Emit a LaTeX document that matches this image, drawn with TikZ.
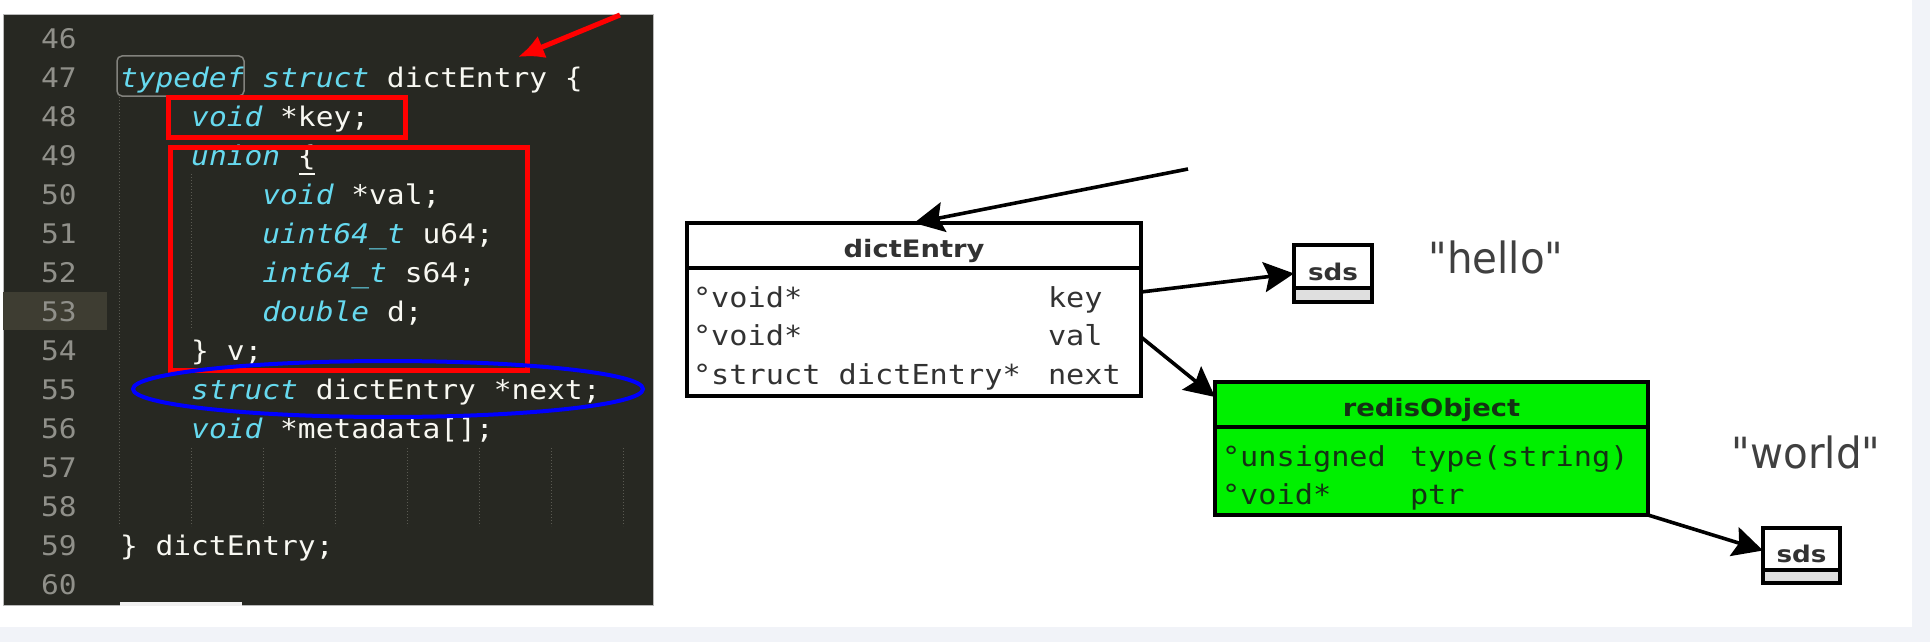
\documentclass[tikz,border=0pt]{standalone}
\usepackage{fontspec}
\setmainfont{DejaVu Sans}
\newfontfamily\codefont{DejaVu Sans Mono}[FakeStretch=1.095]
\newfontfamily\umlmono{DejaVu Sans Mono}[FakeStretch=1.1]
\newfontfamily\umlsans{DejaVu Sans}[FakeStretch=1.14]
\newfontfamily\strfont{DejaVu Sans}[FakeStretch=0.94]
\usetikzlibrary{arrows.meta,calc}
\definecolor{pagegray}{RGB}{241,243,248}
\definecolor{panelbg}{RGB}{39,40,34}
\definecolor{codefg}{RGB}{248,248,242}
\definecolor{kwcol}{RGB}{102,217,239}
\definecolor{gutterfg}{RGB}{144,144,138}
\definecolor{gutterhl}{RGB}{62,61,50}
\definecolor{guidecol}{RGB}{90,90,82}
\definecolor{umltext}{RGB}{50,50,50}
\definecolor{objtext}{RGB}{20,50,20}
\definecolor{objgreen}{RGB}{0,240,0}
\definecolor{strgray}{RGB}{64,64,64}
\definecolor{markred}{RGB}{255,0,0}
\definecolor{markblue}{RGB}{0,0,255}
\definecolor{findbox}{RGB}{130,130,125}
\newcommand\kwd[1]{{\color{kwcol}\itshape #1}}
\frenchspacing
\tikzset{
  codeline/.style={anchor=base west, inner sep=0pt, outer sep=0pt, text=codefg,
    font=\codefont\fontsize{27}{30}\selectfont},
  lnum/.style={codeline, text=gutterfg},
  guide/.style={draw=guidecol, line width=1pt, dash pattern=on 1pt off 2pt},
  redbox/.style={draw=markred, line width=5pt},
  umlbox/.style={draw=black, line width=3.5pt, inner sep=0pt, outer sep=0pt, fill=white},
  umlline/.style={draw=black, line width=3.5pt},
  umlhead/.style={anchor=base, inner sep=0pt, outer sep=0pt, text=umltext,
    font=\umlsans\bfseries\fontsize{24}{26}\selectfont},
  sdshead/.style={umlhead, font=\umlsans\bfseries\fontsize{23}{25}\selectfont},
  umlrow/.style={anchor=base west, inner sep=0pt, outer sep=0pt, text=umltext,
    font=\umlmono\fontsize{27.5}{30}\selectfont},
  strtext/.style={inner sep=0pt, outer sep=0pt, text=strgray,
    font=\strfont\fontsize{43}{46}\selectfont},
  arr/.style={draw=black, line width=3.6pt, -{Stealth[length=30pt,width=30pt,inset=5pt]}},
  redarr/.style={draw=markred, line width=5pt, -{Latex[length=26pt,width=24pt]}},
}
\begin{document}
\begin{tikzpicture}[x=1pt,y=-1pt]
\useasboundingbox (0,0) rectangle (1930,642);
% page background
\fill[pagegray] (0,0) rectangle (1930,642);
\fill[white] (0,0) rectangle (1912,627);

% ---------------- code panel ----------------
\fill[panelbg] (3,15) rectangle (653,605);
\draw[gray!55, line width=1pt] (3,15) rectangle (653,605);
\fill[white!88!gray] (120,602) rectangle (242,606);
\fill[gutterhl] (3,292) rectangle (107,330);

% indent guides
\draw[guide] (119,97) -- (119,526);
\draw[guide] (191,174) -- (191,330);
\foreach \gx in {191,263,335,407,479,551,623}
  \draw[guide] (\gx,448) -- (\gx,526);

% line numbers
\foreach \n in {46,...,60}
  \node[lnum] (ln\n) at (41,{360.5+(\n-54)*39}) {\n};

% code
\node[codeline] (c47) at (120,87.5) {\kwd{typedef} \kwd{struct} dictEntry \{};
\node[codeline] (c48) at (191.2,126.5) {\kwd{void} *key;};
\node[codeline] (c49) at (191.2,165.5) {\kwd{union} \{};
\node[codeline] (c50) at (262.4,204.5) {\kwd{void} *val;};
\node[codeline] (c51) at (262.4,243.5) {\kwd{uint64\_t} u64;};
\node[codeline] (c52) at (262.4,282.5) {\kwd{int64\_t} s64;};
\node[codeline] (c53) at (262.4,321.5) {\kwd{double} d;};
\node[codeline] (c54) at (191.2,360.5) {\} v;};
\node[codeline] (c55) at (191.2,399.5) {\kwd{struct} dictEntry *next;};
\node[codeline] (c56) at (191.2,438.5) {\kwd{void} *metadata[];};
\node[codeline] (c59) at (120,555.5) {\} dictEntry;};

% bracket match underline and find box
\draw[codefg, line width=1.5pt] (299,174) -- (315,174);
\draw[findbox, line width=1.5pt, rounded corners=5pt] (117,56) rectangle (244,96);

% annotations
\draw[redbox] (168,97) rectangle (405,137);
\draw[redbox] (170,147) rectangle (527,370);
\draw[markblue, line width=4pt] (388,389) ellipse [x radius=255, y radius=28];
\coordinate (redtail) at (620,15);
\coordinate (redtip) at (518,57);
\draw[redarr] (redtail) -- (redtip);

% ---------------- diagram ----------------
% dictEntry
\node[umlbox, minimum width=454pt, minimum height=173pt] (de) at (914,309.5) {};
\draw[umlline] ($(de.north west)+(0,45)$) -- ($(de.north east)+(0,45)$);
\node[umlhead] (deh) at (914,257.5) {dictEntry};
\node[umlrow] (dek1) at (693,307) {°void*};
\node[umlrow] (dek2) at (1048,307) {key};
\node[umlrow] (dev1) at (693,345.5) {°void*};
\node[umlrow] (dev2) at (1048,345.5) {val};
\node[umlrow] (den1) at (693,384) {°struct dictEntry*};
\node[umlrow] (den2) at (1048,384) {next};

% redisObject
\node[umlbox, fill=objgreen, minimum width=433pt, minimum height=133pt] (ro) at (1431.5,448.5) {};
\draw[umlline] ($(ro.north west)+(0,45)$) -- ($(ro.north east)+(0,45)$);
\node[umlhead, text=objtext] (roh) at (1431.5,416.5) {redisObject};
\node[umlrow, text=objtext] (rot1) at (1222,466) {°unsigned};
\node[umlrow, text=objtext] (rot2) at (1410,466) {type(string)};
\node[umlrow, text=objtext] (rop1) at (1222,504) {°void*};
\node[umlrow, text=objtext] (rop2) at (1410,504) {ptr};

% sds boxes
\node[umlbox, minimum width=78pt, minimum height=57pt] (sh) at (1333,273.5) {};
\fill[gray!25] ($(sh.south west)+(1.75,-1.75)$) rectangle ($(sh.south east)+(-1.75,-14)$);
\draw[umlline] ($(sh.south west)+(0,-14)$) -- ($(sh.south east)+(0,-14)$);
\node[sdshead] (shl) at (1333,280) {sds};

\node[umlbox, minimum width=77pt, minimum height=55pt] (sw) at (1801.5,555.5) {};
\fill[gray!25] ($(sw.south west)+(1.75,-1.75)$) rectangle ($(sw.south east)+(-1.75,-13)$);
\draw[umlline] ($(sw.south west)+(0,-13)$) -- ($(sw.south east)+(0,-13)$);
\node[sdshead] (swl) at (1801.5,562.5) {sds};

% strings
\node[strtext] (hello) at (1496,257) {"hello"};
\node[strtext] (world) at (1806,452) {"world"};

% connectors
\coordinate (intail) at (1188,169);
\draw[arr] (intail) -- (de.north);
\coordinate (keyout) at ($(de.north east)+(0,69)$);
\draw[arr] (keyout) -- (sh.west);
\coordinate (valout) at ($(de.north east)+(0,114)$);
\coordinate (roin) at ($(ro.north west)+(0,15)$);
\draw[arr] (valout) -- (roin);
\coordinate (swin) at ($(sw.west)+(0,-5)$);
\draw[arr] (ro.south east) -- (swin);
\end{tikzpicture}
\end{document}
